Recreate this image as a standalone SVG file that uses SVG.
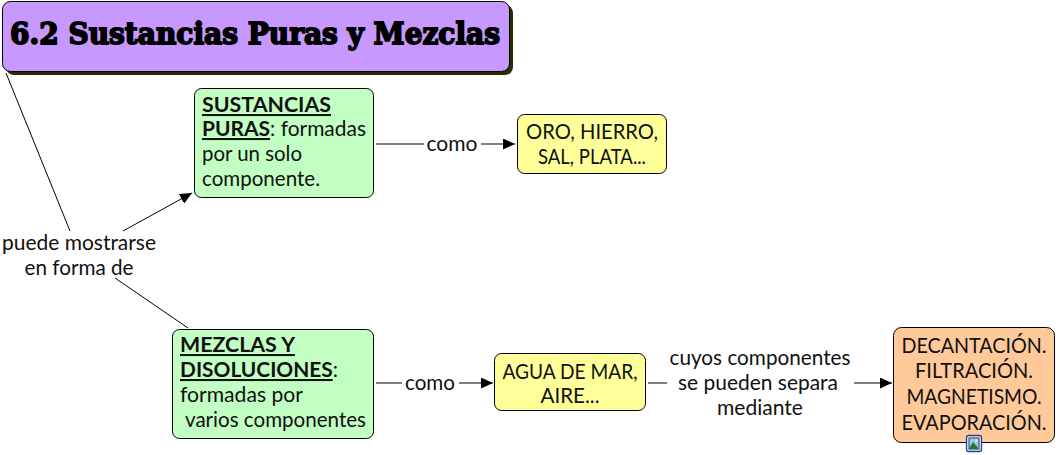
<svg xmlns="http://www.w3.org/2000/svg" width="1056" height="455" viewBox="0 0 1056 455">
<style>
text{font-family:"Lato","Noto Sans",sans-serif;font-size:20.5px;fill:#111}
.c{text-anchor:middle}
.n{stroke:#000;stroke-width:1}
.u{font-weight:700;text-decoration:underline}
.l{fill:none;stroke:#000;stroke-width:1}
.t{font-family:"DejaVu Serif",serif;font-weight:700;font-size:30px;fill:#000;stroke:#000;stroke-width:1.800px}
</style>
<defs><marker id="a" markerUnits="userSpaceOnUse" markerWidth="12" markerHeight="11" refX="12" refY="5.500" orient="auto"><path d="M0 0L12 5.500L0 11Z" fill="#000"/></marker></defs>
<rect width="1056" height="455" fill="#fff"/>
<g id="connectors">
<path class="l" d="M6 73L70 231"/>
<path class="l" d="M123 231L192 193" marker-end="url(#a)"/>
<path class="l" d="M115 278L188 328"/>
<path class="l" d="M376 144H424"/>
<path class="l" d="M481 144H515" marker-end="url(#a)"/>
<path class="l" d="M376 383H402"/>
<path class="l" d="M459 383H493" marker-end="url(#a)"/>
<path class="l" d="M648 383H667"/>
<path class="l" d="M854 383H892" marker-end="url(#a)"/>
</g>
<g id="title">
<rect x="6" y="5" width="507" height="70" rx="8" fill="#2b2b00"/>
<rect class="n" x="2.500" y="1.500" width="507" height="70" rx="8" fill="#c799ff"/>
<text class="t" x="10" y="44" textLength="490" lengthAdjust="spacingAndGlyphs">6.2 Sustancias Puras y Mezclas</text>
</g>
<g id="label-puede">
<text class="c" x="79" y="250" textLength="154" lengthAdjust="spacingAndGlyphs">puede mostrarse</text>
<text class="c" x="79" y="275" textLength="109" lengthAdjust="spacingAndGlyphs">en forma de</text>
</g>
<g id="sustancias">
<rect class="n" x="194.500" y="88.500" width="179" height="109" rx="7" fill="#c2ffc2"/>
<text x="202" y="112" class="u" textLength="129" lengthAdjust="spacingAndGlyphs">SUSTANCIAS</text>
<text x="202" y="136" textLength="164" lengthAdjust="spacingAndGlyphs"><tspan class="u">PURAS</tspan>: formadas</text>
<text x="202" y="161" textLength="100" lengthAdjust="spacingAndGlyphs">por un solo</text>
<text x="202" y="186" textLength="118" lengthAdjust="spacingAndGlyphs">componente.</text>
</g>
<g id="label-como1"><text class="c" x="452" y="151" textLength="51" lengthAdjust="spacingAndGlyphs">como</text></g>
<g id="oro">
<rect class="n" x="517.500" y="114.500" width="149" height="59" rx="7" fill="#ffff99"/>
<text class="c" x="592" y="139" textLength="132" lengthAdjust="spacingAndGlyphs">ORO, HIERRO,</text>
<text class="c" x="592" y="164" textLength="108" lengthAdjust="spacingAndGlyphs">SAL, PLATA...</text>
</g>
<g id="mezclas">
<rect class="n" x="172.500" y="329.500" width="201" height="109" rx="7" fill="#c2ffc2"/>
<text x="180" y="352" class="u" textLength="115" lengthAdjust="spacingAndGlyphs">MEZCLAS Y</text>
<text x="180" y="377" textLength="158" lengthAdjust="spacingAndGlyphs"><tspan class="u">DISOLUCIONES</tspan>:</text>
<text x="180" y="402" textLength="123" lengthAdjust="spacingAndGlyphs">formadas por</text>
<text x="185" y="427" textLength="181" lengthAdjust="spacingAndGlyphs">varios componentes</text>
</g>
<g id="label-como2"><text class="c" x="430" y="390" textLength="50" lengthAdjust="spacingAndGlyphs">como</text></g>
<g id="agua">
<rect class="n" x="494.500" y="353.500" width="151" height="57" rx="7" fill="#ffff99"/>
<text class="c" x="570" y="379" textLength="135" lengthAdjust="spacingAndGlyphs">AGUA DE MAR,</text>
<text class="c" x="570" y="403" textLength="59" lengthAdjust="spacingAndGlyphs">AIRE...</text>
</g>
<g id="label-cuyos">
<text class="c" x="760" y="365" textLength="181" lengthAdjust="spacingAndGlyphs">cuyos componentes</text>
<text class="c" x="758" y="390" textLength="160" lengthAdjust="spacingAndGlyphs">se pueden separa</text>
<text class="c" x="760" y="415" textLength="86" lengthAdjust="spacingAndGlyphs">mediante</text>
</g>
<g id="decantacion">
<rect class="n" x="893.500" y="327.500" width="161" height="115" rx="8" fill="#ffc999"/>
<text class="c" x="974" y="353" textLength="145" lengthAdjust="spacingAndGlyphs">DECANTACIÓN.</text>
<text class="c" x="974" y="378" textLength="118" lengthAdjust="spacingAndGlyphs">FILTRACIÓN.</text>
<text class="c" x="974" y="404" textLength="135" lengthAdjust="spacingAndGlyphs">MAGNETISMO.</text>
<text class="c" x="974" y="430" textLength="145" lengthAdjust="spacingAndGlyphs">EVAPORACIÓN.</text>
<g id="icon">
<rect x="966.500" y="435.500" width="15" height="16" rx="2" fill="#dce9fb" stroke="#1a4aa0" stroke-width="1.300"/>
<rect x="969" y="438" width="10" height="11" fill="#9cc4ee" stroke="#222" stroke-width=".8"/>
<path d="M969 449L973 442L979 449Z" fill="#1f7a30"/>
<circle cx="976.500" cy="440.500" r="1.300" fill="#ffe680"/>
</g>
</g>
</svg>
